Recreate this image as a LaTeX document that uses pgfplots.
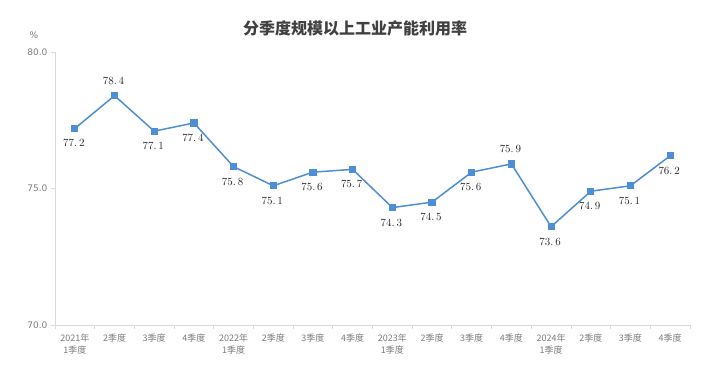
\documentclass[border=0pt]{standalone}
\usepackage{pgfplots}
\pgfplotsset{compat=1.18}
\usepackage{pgfplotstable}
\usepackage{fontspec}
\setmainfont{DejaVu Sans}
\newfontfamily\cjk{Noto Sans CJK SC}
\newfontfamily\numfont{Liberation Serif}[FakeBold=2]
\definecolor{lineblue}{RGB}{78,142,212}
\definecolor{axgray}{RGB}{217,217,217}
\definecolor{tickgray}{RGB}{125,125,125}
\definecolor{titlegray}{RGB}{64,64,64}
\definecolor{labelcol}{RGB}{40,40,40}
\pgfplotstableread{
x y pos
0 77.2 -1
1 78.4 1
2 77.1 -1
3 77.4 -1
4 75.8 -1
5 75.1 -1
6 75.6 -1
7 75.7 -1
8 74.3 -1
9 74.5 -1
10 75.6 -1
11 75.9 1
12 73.6 -1
13 74.9 -1
14 75.1 -1
15 76.2 -1
}\datatable
\begin{document}
\begin{tikzpicture}
\useasboundingbox (0,0) rectangle (711pt,387pt);
\fill[white] (0,0) rectangle (711pt,387pt);
\node[font=\cjk\bfseries\fontsize{16}{18}\selectfont, text=titlegray] at (355pt,359pt) {分季度规模以上工业产能利用率};
\node[font=\fontsize{9}{10}\selectfont, text=tickgray] at (34pt,352pt) {\%};
\begin{axis}[
  at={(55pt,62pt)}, anchor=south west,
  scale only axis, width=635pt, height=273pt,
  xmin=-0.5, xmax=15.5, ymin=70, ymax=80,
  axis lines=left, axis line style={axgray, -, line width=0.8pt},
  tick align=outside,
  xtick={0,...,15},
  xticklabels={{2021年\\1季度},2季度,3季度,4季度,{2022年\\1季度},2季度,3季度,4季度,{2023年\\1季度},2季度,3季度,4季度,{2024年\\1季度},2季度,3季度,4季度},
  minor xtick={-0.5,0.5,...,15.5},
  every major x tick/.style={draw=none},
  every minor x tick/.style={axgray, line width=0.8pt},
  minor tick length=4pt,
  major tick length=4pt,
  every major y tick/.style={axgray, line width=0.8pt},
  x tick label style={font=\cjk\fontsize{9}{12}\selectfont, text=tickgray, align=center, anchor=north, yshift=-1pt},
  ytick={70,75,80},
  y tick label style={font=\fontsize{9}{10}\selectfont, text=tickgray},
  yticklabel style={/pgf/number format/.cd, fixed, fixed zerofill, precision=1, assume math mode=true},
  clip=false,
]
\addplot[lineblue, line width=1.5pt, mark=square*, mark size=3.1pt, mark options={solid, fill=lineblue, draw=lineblue, line width=0pt},
  nodes near coords={\pgfmathprintnumber[fixed,fixed zerofill,precision=1,dec sep={.\,}]{\pgfplotspointmeta}},
  point meta=explicit,
  visualization depends on={\thisrow{pos}\as\pos},
  every node near coord/.append style={anchor=center, yshift=\pos*15pt, xshift=-1pt, font=\numfont\fontsize{10.5}{11}\selectfont, text=labelcol}]
  table[x=x, y=y, meta=y] {\datatable};
\end{axis}
\end{tikzpicture}
\end{document}
